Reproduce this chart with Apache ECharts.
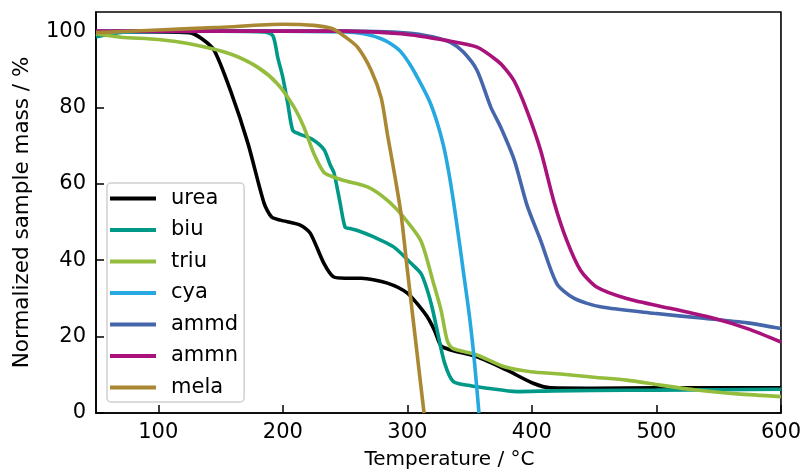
<!DOCTYPE html>
<html>
<head>
<meta charset="utf-8">
<script src="https://cdn.jsdelivr.net/npm/echarts@6/dist/echarts.min.js"></script>
<style>
html, body { margin: 0; padding: 0; background: #fff; }
#chart { width: 804px; height: 476px; }
</style>
</head>
<body>
<div id="chart"></div>
<script>
// 温度(°C) / 质量(%) 读图数据
var xTicks = [100, 200, 300, 400, 500, 600];
var yTicks = [0, 20, 40, 60, 80, 100];

var names = ['urea', 'biu', 'triu', 'cya', 'ammd', 'ammn', 'mela'];
var colors = ['#000000', '#009988', '#94bd3e', '#26a8e0', '#4566aa', '#a8127a', '#aa8833'];

var ureaT = [50, 100, 125, 135, 145, 158, 172, 185, 191, 198, 214, 222, 233, 241, 250, 263, 284, 300, 310, 316, 322, 327, 335, 356, 380, 401, 415, 450, 500, 550, 600];
var ureaM = [99.7, 99.8, 99.6, 98, 94.9, 84.4, 70.6, 54.9, 51.3, 50.5, 49.2, 47.1, 39.2, 35.6, 35.3, 35.3, 34, 31.4, 27.8, 25.2, 21.5, 17.6, 16.5, 14.7, 11.2, 7.8, 6.6, 6.5, 6.6, 6.6, 6.6];

var biuT = [50, 60, 75, 100, 150, 185, 192, 196, 200, 204, 208, 213, 223, 233, 238, 241, 246, 250, 254, 260, 273, 289, 303, 311, 316, 320, 324, 330, 337, 350, 364, 388, 417, 450, 500, 550, 600];
var biuM = [98.5, 99.2, 99.8, 100, 100, 99.8, 98.8, 93, 87.9, 81, 74, 73.1, 71.8, 69, 65, 63, 55, 48.7, 48.3, 47.8, 46.1, 43.5, 39.2, 36.5, 32.2, 27.5, 21.5, 13, 8.2, 7.2, 6.5, 5.6, 5.8, 5.9, 6.0, 6.1, 6.2];

var triuT = [50, 70, 100, 126, 158, 180, 196, 209, 217, 225, 233, 239, 249, 268, 284, 297, 311, 321, 327, 332, 336, 356, 378, 399, 423, 452, 476, 503, 532, 565, 600];
var triuM = [99.3, 98.4, 97.8, 96.6, 94, 90.5, 86.1, 80.1, 74.8, 67.9, 63, 62, 60.9, 59.2, 55.7, 51.3, 45, 34, 27, 19, 17, 15.2, 12.1, 10.8, 10.2, 9.3, 8.6, 7.3, 6.0, 5.0, 4.3];

var cyaT = [50, 150, 250, 265, 279, 287, 295, 303, 311, 318, 324, 329, 333, 337, 341, 345, 350, 354, 357.5];
var cyaM = [99.8, 100, 99.8, 99.3, 98, 96.6, 94.5, 90.8, 86.1, 81.5, 76, 70, 63.5, 55.5, 46.5, 37, 25, 13, 0];

var ammdT = [50, 150, 250, 300, 320, 335, 345, 356, 367, 375, 386, 396, 407, 420, 434, 455, 498, 538, 573, 600];
var ammdM = [100, 100, 100, 99.5, 98.5, 97, 94.5, 89.7, 80.1, 74.8, 66.1, 54.5, 45.2, 33.9, 30, 27.8, 26.1, 24.8, 23.6, 22.1];

var ammnT = [50, 150, 250, 295, 332, 356, 372, 379, 386, 396, 407, 418, 428, 439, 452, 476, 511, 546, 573, 600];
var ammnM = [100, 100, 100, 99.3, 97.5, 95.8, 92.3, 90, 86.8, 79.2, 68.8, 55, 45.2, 37.4, 33, 30, 27.4, 24.8, 22.1, 18.6];

var melaT = [50, 100, 150, 200, 225, 240, 250, 260, 271, 279, 284, 290, 295, 300, 305, 310, 313.4];
var melaM = [99.6, 100.3, 101, 101.8, 101.5, 100.6, 98.5, 95.8, 89.7, 82.5, 73, 62, 52, 37.5, 23.5, 9.5, 0];

var allT = [ureaT, biuT, triuT, cyaT, ammdT, ammnT, melaT];
var allM = [ureaM, biuM, triuM, cyaM, ammdM, ammnM, melaM];

function zip(t, m) {
	var arr = [];
	for (var i = 0; i < t.length; i++) {
		arr.push([t[i], m[i]]);
	}
	return arr;
}

var font = 'DejaVu Sans';
var seriesArr = [];
for (var i = 0; i < names.length; i++) {
	seriesArr.push({
		name: names[i],
		type: 'line',
		smooth: 0.25,
		symbol: 'none',
		clip: true,
		lineStyle: {color: colors[i], width: 3.6},
		itemStyle: {color: colors[i]},
		data: zip(allT[i], allM[i])
	});
}

var option = {
	animation: false,
	color: colors,
	grid: {left: 96, right: 23, top: 12, bottom: 63, show: true, borderColor: '#000', borderWidth: 1.6, backgroundColor: 'transparent'},
	legend: {
		orient: 'vertical',
		left: 107,
		top: 183,
		padding: [5, 6, 4, 3],
		icon: 'rect',
		itemWidth: 46,
		itemHeight: 4,
		itemGap: 10.5,
		backgroundColor: 'rgba(255,255,255,0.85)',
		borderColor: '#d0d0d0',
		borderWidth: 1.5,
		borderRadius: 4,
		textStyle: {fontFamily: font, fontSize: 21, color: '#000', lineHeight: 21, padding: [0, 0, 0, 10]},
		data: names
	},
	xAxis: {
		type: 'value',
		min: 50,
		max: 600,
		name: 'Temperature / °C',
		nameLocation: 'middle',
		nameGap: 37,
		nameTextStyle: {fontFamily: font, fontSize: 20, color: '#000', padding: [0, 0, 0, 22]},
		splitLine: {show: false},
		axisLine: {lineStyle: {color: '#000', width: 1.6}},
		axisTick: {inside: true, length: 8, lineStyle: {color: '#000', width: 1.5}, customValues: xTicks},
		axisLabel: {fontFamily: font, fontSize: 21, color: '#000', margin: 9, customValues: xTicks}
	},
	yAxis: {
		type: 'value',
		min: 0,
		max: 105,
		name: 'Normalized sample mass / %',
		nameLocation: 'middle',
		nameGap: 63,
		nameTextStyle: {fontFamily: font, fontSize: 21.5, color: '#000'},
		splitLine: {show: false},
		axisLine: {lineStyle: {color: '#000', width: 1.6}},
		axisTick: {inside: true, length: 8, lineStyle: {color: '#000', width: 1.5}, customValues: yTicks},
		axisLabel: {fontFamily: font, fontSize: 21, color: '#000', margin: 10, customValues: yTicks}
	},
	series: seriesArr
};

var myChart = echarts.init(document.getElementById('chart'));
myChart.setOption(option);//加载图表
</script>
</body>
</html>
